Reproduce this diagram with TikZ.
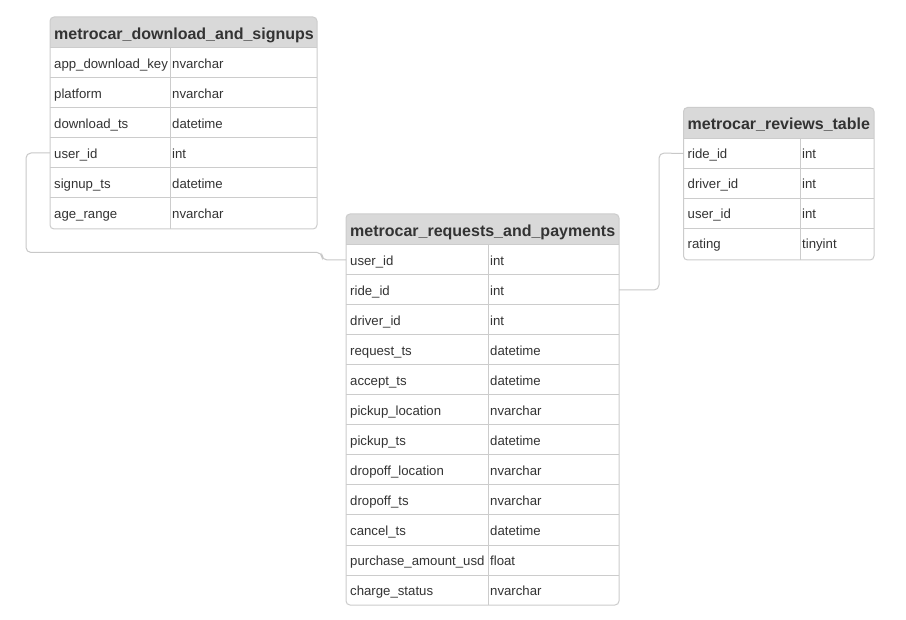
\documentclass[tikz,border=0pt]{standalone}
\usepackage{fontspec}
\setmainfont{Liberation Sans}
\definecolor{hdr}{HTML}{D9D9D9}
\definecolor{bord}{HTML}{CCCCCC}
\definecolor{txt}{HTML}{333333}
\definecolor{connc}{HTML}{C8C8C8}
\tikzset{
  tbl/.style={draw=bord, line width=1pt, rounded corners=4pt},
  sep/.style={draw=bord, line width=1pt},
  hdrtext/.style={anchor=base west, inner sep=0pt, font=\fontsize{16}{18}\selectfont\bfseries, text=txt},
  celltext/.style={anchor=base west, inner sep=0pt, font=\fontsize{13.2}{15}\selectfont, text=txt},
  connline/.style={draw=connc, line width=1pt, rounded corners=5pt}
}
% #1 name #2 left #3 top #4 right #5 divider #6 bottom #7 title #8 rows
\newcommand\ertab[8]{%
  \begin{scope}
    \clip[rounded corners=4pt] (#2,#3) rectangle (#4,#6);
    \fill[white] (#2,#3) rectangle (#4,#6);
    \fill[hdr] (#2,#3) rectangle (#4,#3+31);
  \end{scope}
  \node[hdrtext] (#1-title) at (#2+4,#3+22.5) {#7};
  \foreach \f/\t [count=\i] in {#8} {
    \pgfmathsetmacro\yc{#3+31+30*(\i-1)+15}
    \node[celltext] (#1-f\i) at (#2+4,\yc+5.3) {\f};
    \node[celltext] (#1-t\i) at (#5+2,\yc+5.3) {\t};
    \coordinate (#1-l\i) at (#2,\yc);
    \coordinate (#1-r\i) at (#4,\yc);
    \draw[sep] (#2,\yc-15) -- (#4,\yc-15);
  }
  \draw[sep] (#5,#3+31) -- (#5,#6);
  \draw[tbl] (#2,#3) rectangle (#4,#6);
}
\begin{document}
\begin{tikzpicture}[x=1pt,y=-1pt]
\useasboundingbox[fill=white] (0,0) rectangle (906,620);
\ertab{dl}{50}{17}{317}{170}{229}{metrocar\_download\_and\_signups}{
  app\_download\_key/nvarchar,
  platform/nvarchar,
  download\_ts/datetime,
  user\_id/int,
  signup\_ts/datetime,
  age\_range/nvarchar}
\ertab{rq}{346}{214}{619}{488}{605}{metrocar\_requests\_and\_payments}{
  user\_id/int,
  ride\_id/int,
  driver\_id/int,
  request\_ts/datetime,
  accept\_ts/datetime,
  pickup\_location/nvarchar,
  pickup\_ts/datetime,
  dropoff\_location/nvarchar,
  dropoff\_ts/nvarchar,
  cancel\_ts/datetime,
  purchase\_amount\_usd/float,
  charge\_status/nvarchar}
\ertab{rv}{683.5}{107.5}{874}{800}{260}{metrocar\_reviews\_table}{
  ride\_id/int,
  driver\_id/int,
  user\_id/int,
  rating/tinyint}
\coordinate (c1a) at (26,153);
\coordinate (c1b) at (26,252.5);
\coordinate (c1c) at (322,252.5);
\coordinate (c1d) at (322,260);
\draw[connline] (dl-l4) -- (c1a) -- (c1b) -- (c1c) -- (c1d) -- (rq-l1);
\coordinate (c2a) at (659,290);
\coordinate (c2b) at (659,153);
\draw[connline] (rq-r2) -- (c2a) -- (c2b) -- (rv-l1);
\end{tikzpicture}
\end{document}
